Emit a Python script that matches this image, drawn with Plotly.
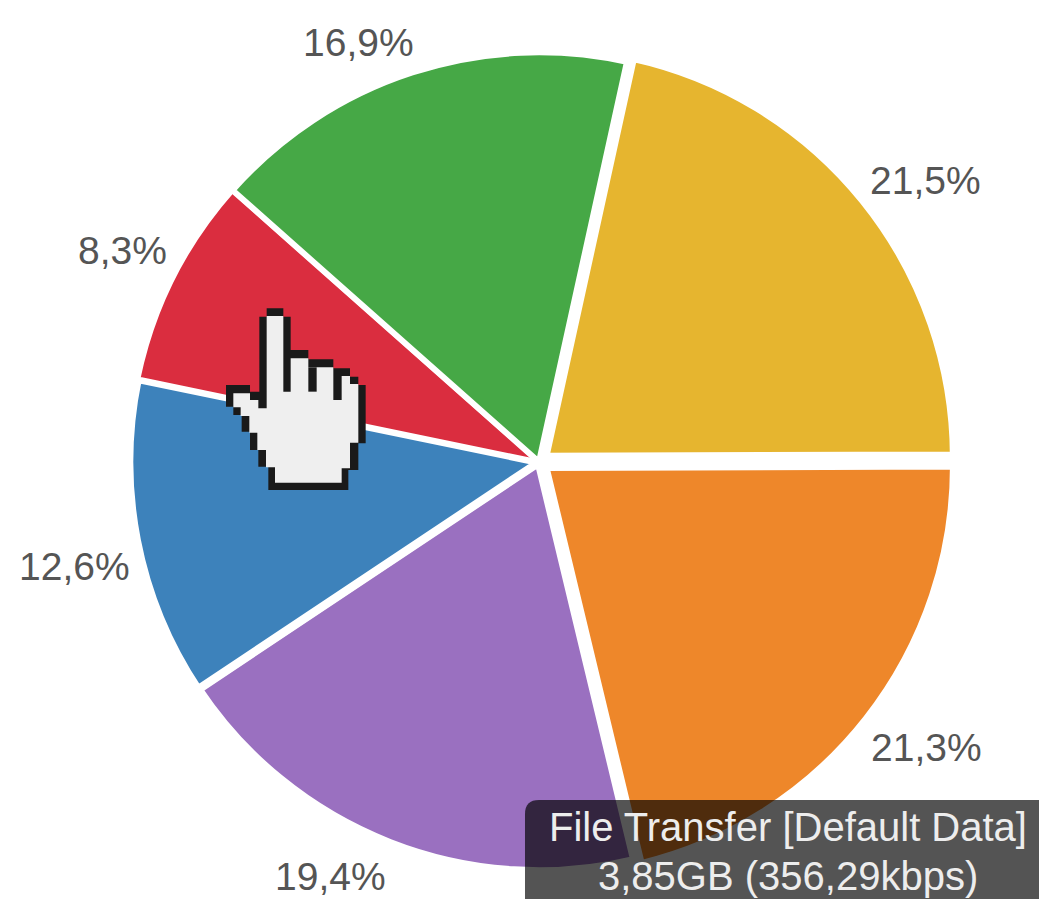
import plotly.graph_objects as go

W, H = 1039, 899

# Data
categories = ["File Transfer", "Streaming", "Web", "Email", "VoIP", "Other"]
shares = [21.5, 21.3, 19.4, 12.6, 8.3, 16.9]
colors = ["#E6B52F", "#EE872A", "#9A70C0", "#3D82BB", "#DA2D3F", "#46A846"]
pulls = [0.018, 0.018, 0.0, 0.0, 0.0, 0.0]
edge_widths = [9, 9, 9, 8, 5, 6]
tip_lines = ["File Transfer [Default Data]", "3,85GB (356,29kbps)"]

# Pixel centres of the outside percentage labels
label_px = [(925, 180), (926, 747), (330, 876), (74, 566), (122, 251), (358, 42)]


def X(px):
    return px / W


def Y(py):
    return 1 - py / H


def path(points):
    return "M" + " L".join(f"{X(x):.5f},{Y(y):.5f}" for x, y in points) + " Z"


def hand(points):
    return [(200 + x / 3, 290 + y / 3) for x, y in points]


half = 417
cx, cy = 539, 462
fig = go.Figure(
    go.Pie(
        labels=categories,
        values=shares,
        sort=False,
        direction="clockwise",
        rotation=12.4,
        pull=pulls,
        textinfo="none",
        hoverinfo="label+percent",
        showlegend=False,
        marker=dict(colors=colors, line=dict(color="#FFFFFF", width=edge_widths)),
        domain=dict(x=[(cx - half) / W, (cx + half) / W], y=[1 - (cy + half) / H, 1 - (cy - half) / H]),
    )
)

annotations = [
    dict(
        x=X(px), y=Y(py), xref="paper", yref="paper", showarrow=False,
        xanchor="center", yanchor="middle",
        text=f"{v:.1f}%".replace(".", ","),
        font=dict(family="Liberation Sans", size=39, color="#555555"),
    )
    for v, (px, py) in zip(shares, label_px)
]
for line, (px, py) in zip(tip_lines, [(788, 827), (788, 876)]):
    annotations.append(
        dict(
            x=X(px), y=Y(py), xref="paper", yref="paper", showarrow=False, text=line,
            xanchor="center", yanchor="middle",
            font=dict(family="Liberation Sans", size=40, color="#EDEDED"),
        )
    )

# Tooltip box
r = 14
tip = (
    f"M{X(525):.5f},{Y(899):.5f} L{X(525):.5f},{Y(800 + r):.5f} "
    f"Q{X(525):.5f},{Y(800):.5f} {X(525 + r):.5f},{Y(800):.5f} "
    f"L{X(1039):.5f},{Y(800):.5f} L{X(1039):.5f},{Y(899):.5f} Z"
)

outer = hand([(205, 600), (445, 600), (445, 540), (475, 540), (475, 460), (497, 460), (497, 285), (475, 285),
              (475, 260), (450, 260), (450, 235), (400, 235), (400, 208), (325, 208), (325, 180), (272, 180),
              (272, 80), (250, 80), (250, 55), (200, 55), (200, 80), (178, 80), (178, 305), (150, 305),
              (150, 285), (78, 285), (78, 350), (100, 350), (100, 375), (125, 375), (125, 425), (150, 425),
              (150, 480), (175, 480), (175, 530), (205, 530)])
inner = hand([(225, 578), (425, 578), (425, 535), (450, 535), (450, 458), (475, 458), (475, 282), (450, 282),
              (450, 258), (400, 258), (400, 232), (325, 232), (325, 205), (272, 205), (272, 305), (250, 305),
              (250, 78), (200, 78), (200, 355), (175, 355), (175, 330), (150, 330), (150, 310), (100, 310),
              (100, 352), (122, 352), (122, 378), (148, 378), (148, 428), (172, 428), (172, 480), (198, 480),
              (198, 532), (225, 532)])
sep1 = hand([(400, 258), (425, 258), (425, 330), (400, 330)])
sep2 = hand([(325, 232), (350, 232), (350, 305), (325, 305)])

shapes = [
    dict(type="path", path=tip, xref="paper", yref="paper", layer="above", line=dict(width=0),
         fillcolor="rgba(0,0,0,0.67)"),
    dict(type="path", path=path(outer), xref="paper", yref="paper", layer="above", line=dict(width=0),
         fillcolor="#1A1A1A"),
    dict(type="path", path=path(inner), xref="paper", yref="paper", layer="above", line=dict(width=0),
         fillcolor="#EFEFEF"),
    dict(type="path", path=path(sep1), xref="paper", yref="paper", layer="above", line=dict(width=0),
         fillcolor="#1A1A1A"),
    dict(type="path", path=path(sep2), xref="paper", yref="paper", layer="above", line=dict(width=0),
         fillcolor="#1A1A1A"),
]

fig.update_layout(
    width=W, height=H,
    margin=dict(l=0, r=0, t=0, b=0),
    paper_bgcolor="#FFFFFF",
    annotations=annotations,
    shapes=shapes,
)

fig.write_html(
    "out.html",
    config=dict(displayModeBar=False),
    post_script="document.body.style.margin='0';document.documentElement.style.overflow='hidden';",
)
